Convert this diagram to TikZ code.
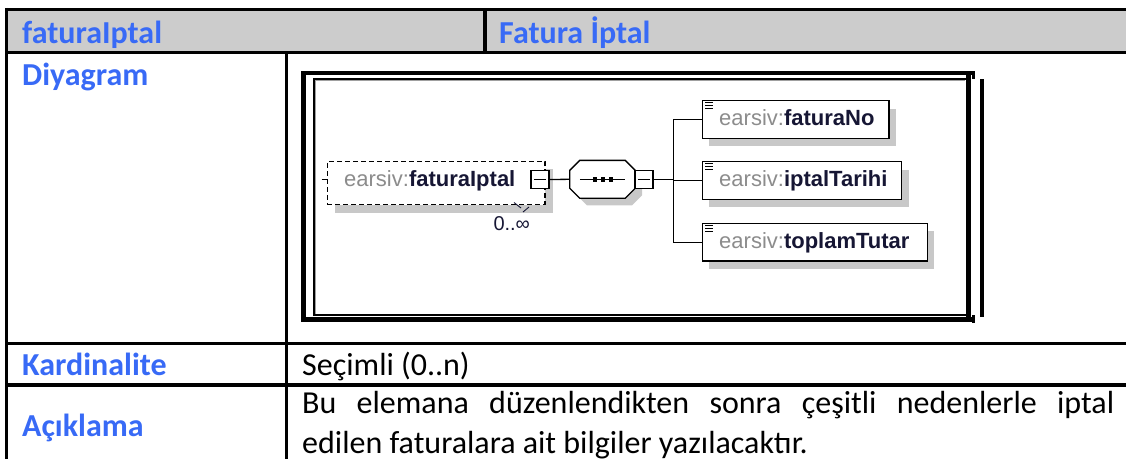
\documentclass[tikz,border=0pt]{standalone}
\usepackage{fontspec}
\setmainfont{Carlito}
\newfontfamily\xsdfont{Liberation Sans}
\usetikzlibrary{shadows}

\definecolor{labelblue}{RGB}{56,106,246}
\definecolor{headgray}{RGB}{204,204,204}
\definecolor{nsgray}{RGB}{140,140,140}
\definecolor{elemink}{RGB}{22,22,52}
\definecolor{shadegray}{RGB}{200,200,200}
\definecolor{framegray}{RGB}{160,160,160}

\newcommand{\nspart}[1]{\textcolor{nsgray}{#1}}
% octagon of the sequence compositor, drawn around node (seq); #2,#3 shift it
\newcommand{\seqoctagon}[3]{%
  \path[#1] ([shift={(#2+10pt,#3)}]seq.north west) -- ([shift={(#2-10pt,#3)}]seq.north east)
    -- ([shift={(#2,#3-10pt)}]seq.north east) -- ([shift={(#2,#3+10pt)}]seq.south east)
    -- ([shift={(#2-10pt,#3)}]seq.south east) -- ([shift={(#2+10pt,#3)}]seq.south west)
    -- ([shift={(#2,#3+10pt)}]seq.south west) -- ([shift={(#2,#3-10pt)}]seq.north west) -- cycle;}
% small "simple content" mark in the top left corner of an element box
\newcommand{\contentmark}[1]{%
  \foreach \k in {0,1,2}
    \draw[line width=0.9pt] ([shift={(3.5pt,-2.6pt-2.9pt*\k)}]#1.north west) -- ++(8pt,0);}

\begin{document}
\begin{tikzpicture}[x=1pt,y=-1pt,
  rule/.style={line width=3.3pt},
  headtext/.style={anchor=base west, inner sep=0, text=labelblue,
    font=\fontsize{32}{38}\selectfont\bfseries},
  bodytext/.style={anchor=base west, inner sep=0, text=black,
    font=\fontsize{32}{38}\selectfont},
  elembox/.style={draw, line width=1.3pt, fill=white, inner sep=0, anchor=north west,
    minimum height=37.6pt,
    drop shadow={shadow xshift=7pt, shadow yshift=-8pt, fill=shadegray, opacity=1}},
  elemtext/.style={anchor=base west, inner sep=0, text=elemink,
    font=\xsdfont\fontsize{22}{26}\selectfont},
  cbox/.style={draw, fill=white, line width=1.2pt, minimum width=18pt,
    minimum height=17.5pt, inner sep=0},
  conn/.style={line width=1.3pt},
]
\useasboundingbox (0,0) rectangle (1126,459);

% ---- table ----
\fill[headgray] (6.7,9.5) rectangle (1126,52.3);
\draw[rule] (5,9.5) -- (1126,9.5);
\draw[rule] (5,52.3) -- (1126,52.3);
\draw[rule] (5,343.7) -- (1126,343.7);
\draw[rule] (5,385) -- (1126,385);
\draw[rule] (6.7,7.9) -- (6.7,459);
\draw[rule] (485,9.5) -- (485,52.3);
\draw[rule] (286.3,52.3) -- (286.3,459);

\node[headtext] (hname) at (22,43.3) {faturaIptal};
\node[headtext] (htitle) at (499,43.3) {Fatura İptal};
\node[headtext] (ldiag) at (22,85) {Diyagram};
\node[headtext] (lcard) at (22,375) {Kardinalite};
\node[headtext] (ldesc) at (22,436) {Açıklama};
\node[bodytext] (vcard) at (302,375) {Seçimli (0..n)};
\node[bodytext] (vdesc1) at (302,413)
  {\makebox[812pt][s]{Bu elemana düzenlendikten sonra çeşitli nedenlerle iptal}};
\node[bodytext] (vdesc2) at (302,453.5) {edilen faturalara ait bilgiler yazılacaktır.};

% ---- picture frame ----
\draw[line width=4.5pt] (303.3,71) -- (303.3,321.7);
\draw[line width=4pt] (301,73) -- (975,73);
\draw[line width=4.3pt] (301,319.5) -- (975,319.5);
\draw[line width=4.7pt] (968.3,73) -- (968.3,319.5);
\draw[line width=3.3pt] (973.3,71) -- (973.3,79.3);
\draw[line width=3.3pt] (973.3,315) -- (973.3,323);
\draw[line width=4pt] (982,79.3) -- (982,316.7);
\draw[line width=1.6pt] (313.8,316) -- (313.8,79.2) -- (966,79.2);
\draw[line width=1.6pt] (313.8,315) -- (966,315);
\draw[framegray, line width=0.9pt] (315.6,314) -- (315.6,80.8) -- (965,80.8);

% ---- schema diagram ----
\node[draw, dash pattern=on 5pt off 3pt, line width=1.2pt, fill=white, inner sep=0,
  anchor=north west, minimum width=217.6pt, minimum height=43.3pt,
  drop shadow={shadow xshift=8pt, shadow yshift=-8pt, fill=shadegray, opacity=1}]
  (root) at (326.7,160.7) {};
\node[elemtext] (rootT) at (344,186) {\nspart{earsiv:}\textbf{faturaIptal}};
\coordinate (stub) at (321.5,179.5);
\draw[line width=1.2pt] (stub) -- (stub -| root.west);
\draw[line width=0.9pt, elemink] (514,202.5) -- (521,208);
\draw[line width=0.9pt, elemink] (523,212) -- (529,207);
\node[elemtext, font=\xsdfont\fontsize{20}{24}\selectfont] (occ) at (493.3,230.7) {0..∞};

\node[cbox] (c1) at (540,179.5) {};
\draw[line width=1.2pt] ([xshift=3.5pt]c1.west) -- ([xshift=-3.5pt]c1.east);

\node[minimum width=65pt, minimum height=37.5pt, inner sep=0] (seq) at (602.5,179.3) {};
\seqoctagon{fill=shadegray}{7pt}{-7pt}
\seqoctagon{draw, fill=white, line width=1.3pt}{0pt}{0pt}
\draw[line width=1.3pt] ([xshift=10pt]seq.west) -- ([xshift=-10pt]seq.east);
\foreach \d in {-7.5,0.5,8.5}
  \fill ([xshift=\d pt]seq.center) +(-2pt,-2.2pt) rectangle +(2pt,2.2pt);

\node[cbox] (c2) at (644,179.5) {};
\draw[line width=1.2pt] ([xshift=3.5pt]c2.west) -- ([xshift=-3.5pt]c2.east);

\node[elembox, minimum width=186.6pt] (fno) at (701.7,100) {};
\node[elembox, minimum width=199.3pt] (ipt) at (701.7,161) {};
\node[elembox, minimum width=225pt] (tot) at (701.7,222.7) {};
\contentmark{fno}
\contentmark{ipt}
\contentmark{tot}
\node[elemtext] (fnoT) at (719,125.5) {\nspart{earsiv:}\textbf{faturaNo}};
\node[elemtext] (iptT) at (719,186.7) {\nspart{earsiv:}\textbf{iptalTarihi}};
\node[elemtext] (totT) at (719,248.3) {\nspart{earsiv:}\textbf{toplamTutar}};

\draw[conn] (c1.east) -- (seq.west);
\coordinate (trunk) at (673.3,179.5);
\draw[conn] (c2.east) -- (trunk);
\draw[conn] (trunk) |- (fno.west);
\draw[conn] (trunk) |- (tot.west);
\draw[conn] (trunk) -- (trunk |- ipt.west) -- (ipt.west);
\end{tikzpicture}
\end{document}
